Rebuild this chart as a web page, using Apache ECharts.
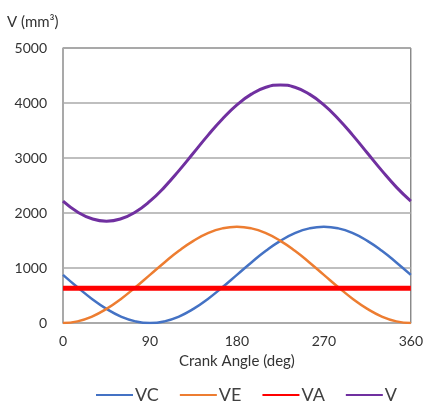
<!DOCTYPE html>
<html><head><meta charset="utf-8">
<script src="https://cdn.jsdelivr.net/npm/echarts@6/dist/echarts.min.js"></script>
<style>html,body{margin:0;padding:0;background:#fff}#c{width:426px;height:409px}</style>
</head><body><div id="c"></div>
<script>
const angles = [0,15,30,45,60,75,90,105,120,135,150,165,180,195,210,225,240,255,270,285,300,315,330,345,360];
const VC = [875,649,438,256,117,30,0,30,117,256,438,649,875,1101,1313,1494,1633,1720,1750,1720,1633,1494,1313,1101,875];
const VE = [0,30,117,256,438,649,875,1101,1313,1494,1633,1720,1750,1720,1633,1494,1313,1101,875,649,438,256,117,30,0];
const VA = [630,630,630,630,630,630,630,630,630,630,630,630,630,630,630,630,630,630,630,630,630,630,630,630,630];
const V = [2215,2019,1895,1852,1895,2019,2215,2471,2770,3090,3411,3709,3965,4161,4286,4328,4286,4161,3965,3709,3411,3090,2770,2471,2215];
const xTicks = [0,90,180,270,360];
const yTicks = [0,1000,2000,3000,4000,5000];

const pair = arr => angles.map((a,i)=>[a,arr[i]]);
const font = 'Lato, "Noto Sans", sans-serif';
const chart = echarts.init(document.getElementById('c'));
chart.setOption({
  animation:false,
  textStyle:{fontFamily:font},
  grid:{left:63,right:15,top:48,bottom:86,show:true,borderColor:'#555',borderWidth:1,backgroundColor:'transparent'},
  legend:{bottom:0,left:90,itemWidth:37,itemHeight:14,itemGap:20,
    itemStyle:{opacity:0},
    textStyle:{fontSize:18,color:'#404040',fontFamily:font,padding:[0,0,0,-3]},
    data:['VC','VE','VA','V']},
  xAxis:{type:'value',min:xTicks[0],max:xTicks[xTicks.length-1],interval:90,
    name:'Crank Angle (deg)',nameLocation:'middle',nameGap:31,
    nameTextStyle:{fontSize:15,color:'#333'},
    axisLine:{lineStyle:{color:'#aaa',width:1.5}},axisTick:{show:false},
    axisLabel:{fontSize:14,color:'#333',margin:11},splitLine:{show:false}},
  yAxis:{type:'value',min:yTicks[0],max:yTicks[yTicks.length-1],interval:1000,
    name:'V (mm³)',nameLocation:'end',nameGap:18,
    nameTextStyle:{fontSize:15,color:'#333',align:'left',padding:[0,0,0,-56]},
    axisLine:{show:true,lineStyle:{color:'#aaa',width:1.5}},axisTick:{show:false},
    axisLabel:{fontSize:14,color:'#333',margin:16,formatter:v=>String(v)},
    splitLine:{lineStyle:{color:'#aaa',width:1.5}}},
  series:[
    {name:'VC',type:'line',data:pair(VC),smooth:true,symbol:'none',lineStyle:{color:'#4472C4',width:2.5},itemStyle:{color:'#4472C4'}},
    {name:'VE',type:'line',data:pair(VE),smooth:true,symbol:'none',lineStyle:{color:'#ED7D31',width:2.5},itemStyle:{color:'#ED7D31'}},
    {name:'VA',type:'line',data:pair(VA),symbol:'none',lineStyle:{color:'#FF0000',width:5},itemStyle:{color:'#FF0000'}},
    {name:'V',type:'line',data:pair(V),smooth:true,symbol:'none',lineStyle:{color:'#7030A0',width:3},itemStyle:{color:'#7030A0'}}
  ]
});
</script></body></html>
